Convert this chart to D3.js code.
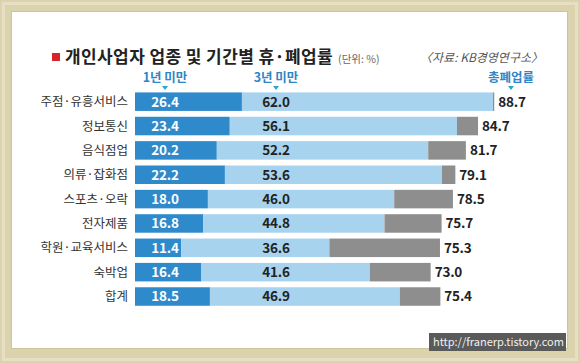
<!DOCTYPE html>
<html><head><meta charset="utf-8">
<script src="https://cdn.jsdelivr.net/npm/d3@7"></script>
<style>
html,body{margin:0;padding:0;background:#dbd2ae;}
svg{display:block;}
text{font-family:"Noto Sans CJK KR","Noto Sans",sans-serif;}
</style></head>
<body>
<svg id="c" width="580" height="363"></svg>
<script>
const categories = ["주점·유흥서비스","정보통신","음식점업","의류·잡화점","스포츠·오락","전자제품","학원·교육서비스","숙박업","합계"];
const under1Year = [26.4,23.4,20.2,22.2,18.0,16.8,11.4,16.4,18.5];
const under3Year = [62.0,56.1,52.2,53.6,46.0,44.8,36.6,41.6,46.9];
const totalClosure = [88.7,84.7,81.7,79.1,78.5,75.7,75.3,73.0,75.4];
const seriesNames = ["1년 미만","3년 미만","총폐업률"];

const svg = d3.select("#c");
// frame
svg.append("rect").attr("x",0).attr("y",0).attr("width",580).attr("height",363).attr("fill","#dbd2ae");
svg.append("rect").attr("x",3.5).attr("y",3.5).attr("width",573).attr("height",356).attr("fill","none").attr("stroke","#e6dfc3").attr("stroke-width",3);
svg.append("rect").attr("x",12).attr("y",12).attr("width",555).attr("height",336).attr("fill","#ffffff");
svg.append("rect").attr("x",11.5).attr("y",11.5).attr("width",556).attr("height",337).attr("fill","none").attr("stroke","#cfc59c").attr("stroke-width",1);

const x = d3.scaleLinear().domain([0,100]).range([135,540]);
const y = d3.scaleBand().domain(categories).range([89.5,308.7]).paddingInner(0.24).paddingOuter(0.12);

const rows = categories.map((c,i)=>({c, a:under1Year[i], b:under3Year[i], t:totalClosure[i]}));

// title
svg.append("rect").attr("x",52).attr("y",53).attr("width",8).attr("height",8).attr("fill","#d7262b");
const title = svg.append("text").attr("x",65).attr("y",62.5).attr("fill","#222");
title.append("tspan").attr("font-size",17).attr("letter-spacing","0.4").attr("font-weight","bold").text("개인사업자 업종 및 기간별 휴·폐업률");
title.append("tspan").attr("font-size",10.5).attr("letter-spacing","0").attr("fill","#666").attr("dx",5).text("(단위: %)");
svg.append("text").attr("x",543).attr("y",62).attr("text-anchor","end").attr("font-size",12).attr("font-style","italic").attr("fill","#555").text("〈자료: KB경영연구소〉");

const g = svg.append("g");
// bars
g.selectAll(".b1").data(rows).join("rect").attr("x",x(0)).attr("y",d=>y(d.c)).attr("width",d=>x(d.a)-x(0)).attr("height",y.bandwidth()).attr("fill","#2f8acb");
g.selectAll(".b2").data(rows).join("rect").attr("x",d=>x(d.a)).attr("y",d=>y(d.c)).attr("width",d=>x(d.a+d.b)-x(d.a)).attr("height",y.bandwidth()).attr("fill","#a8d3ef");
g.selectAll(".b3").data(rows).join("rect").attr("x",d=>x(d.a+d.b)).attr("y",d=>y(d.c)).attr("width",d=>Math.max(0,x(d.t)-x(d.a+d.b))).attr("height",y.bandwidth()).attr("fill","#8e8e8e");

const cy = d=>y(d.c)+y.bandwidth()/2;
// category labels
g.selectAll(".cl").data(rows).join("text").attr("x",128).attr("y",cy).attr("dy","0.36em").attr("text-anchor","end").attr("font-size",12.5).attr("fill","#333").text(d=>d.c);
// values
const col1 = 165, col2 = 276, col3 = 511;
const num = sel=>sel.attr("font-family","'DejaVu Sans Condensed','DejaVu Sans',sans-serif").attr("font-stretch","condensed").attr("font-weight","bold").attr("font-size",13.5).attr("letter-spacing","-0.2");
num(g.selectAll(".v1").data(rows).join("text").attr("x",col1).attr("y",cy).attr("dy","0.36em").attr("text-anchor","middle").attr("fill","#fff").text(d=>d.a.toFixed(1)));
num(g.selectAll(".v2").data(rows).join("text").attr("x",col2).attr("y",cy).attr("dy","0.36em").attr("text-anchor","middle").attr("fill","#222").text(d=>d.b.toFixed(1)));
num(g.selectAll(".v3").data(rows).join("text").attr("x",d=>x(d.t)+4).attr("y",cy).attr("dy","0.36em").attr("text-anchor","start").attr("fill","#222").text(d=>d.t.toFixed(1)));

// series headers with triangles
const heads = [col1,col2,col3];
heads.forEach((hx,i)=>{
  svg.append("text").attr("x",hx).attr("y",82).attr("text-anchor","middle").attr("font-size",12.5).attr("font-weight","bold").attr("fill","#2f86c4").text(seriesNames[i]);
  svg.append("path").attr("d",`M${hx-3},86 L${hx+3},86 L${hx},90 Z`).attr("fill","#2fa3c9");
});

// watermark
svg.append("rect").attr("x",429).attr("y",333).attr("width",137).attr("height",18).attr("fill","#5a5a5a");
svg.append("text").attr("x",433).attr("y",346).attr("font-family","'DejaVu Sans',sans-serif").attr("font-size",11).attr("fill","#f0f0f0").text("http://franerp.tistory.com");
</script>
</body></html>
